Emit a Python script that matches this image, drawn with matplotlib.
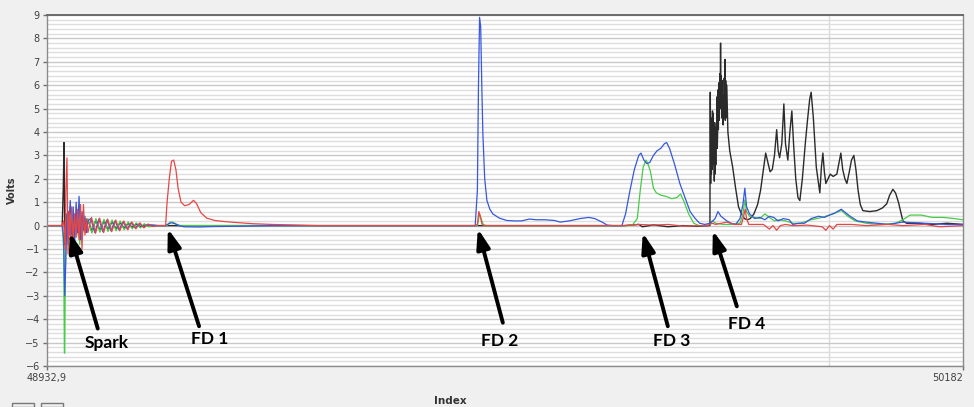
import matplotlib
matplotlib.use("Agg")
import matplotlib.pyplot as plt
from matplotlib.ticker import MultipleLocator
from matplotlib.patches import Rectangle

# index / volts samples for the four probe channels
black_x = [48933, 48954, 48955.5, 48956.5, 48957.5, 48959, 48961, 48963, 48965, 48967, 48969, 48971,
           48973, 48975, 48977, 48979, 48981, 48983, 48986, 48989, 48994.5, 49000, 49005.5, 49011,
           49016.5, 49022, 49027.5, 49033, 49038.5, 49044, 49049.5, 49055, 49060.5, 49066, 49085,
           49720, 49740, 49745, 49760, 49780, 49800, 49820, 49836,
           49837, 49837.5, 49838, 49838.5, 49839, 49839.5, 49840, 49840.5, 49841, 49841.5, 49842,
           49842.5, 49843, 49843.5, 49844, 49844.5, 49845, 49845.5, 49846, 49846.5, 49847, 49847.5,
           49848, 49848.5, 49849, 49849.5, 49850, 49850.5, 49851, 49851.5, 49852, 49852.5, 49853,
           49853.5, 49854, 49854.5, 49855, 49855.5, 49856, 49856.5, 49857, 49857.5, 49858, 49858.5,
           49859, 49860, 49861.5, 49864, 49868, 49872, 49876, 49880, 49884,
           49888, 49892, 49897, 49902, 49906, 49910, 49913, 49916, 49919, 49922, 49925, 49928,
           49930, 49932, 49935, 49937.8, 49940, 49943.2, 49946, 49948.7, 49951, 49954, 49957,
           49959.6, 49963, 49967, 49970, 49973, 49975, 49978, 49982, 49986.8, 49989, 49991, 49993,
           49995, 49998, 50001, 50005, 50010, 50013, 50015.5, 50018, 50021, 50023.7, 50027, 50030,
           50033.2, 50036, 50039, 50042, 50045.5, 50055, 50064.6, 50072, 50078, 50082, 50086.4,
           50090, 50094, 50097, 50100, 50105, 50120, 50140, 50160, 50182]
black_v = [0, 0, 1.6, 3.55, -0.8, 0.5, -0.5, 0.6, -0.4, 0.3, -0.6, 0.4,
           -0.2, 0.5, -0.3, 0.2, -0.5, 0.3, -0.2, 0.25, -0.25, 0.24, -0.22, 0.2,
           -0.18, 0.17, -0.15, 0.13, -0.12, 0.1, -0.08, 0.07, -0.05, 0.03, 0,
           0, 0.05, -0.05, 0.03, -0.05, 0, -0.03, 0,
           0, 5.7, 1.8, 4.6, 2.2, 4.0, 2.4, 4.9, 2.6, 4.8, 2.9,
           3.5, 1.9, 4.4, 2.2, 3.8, 2.6, 4.2, 3.5, 5.5, 3.3, 3.9,
           5.8, 4.1, 6.1, 4.5, 5.2, 6.5, 5.1, 7.8, 5.0, 6.4, 4.6,
           6.2, 4.8, 5.6, 4.3, 5.2, 4.6, 6.3, 5.0, 7.1, 4.5, 6.2,
           4.6, 6.0, 4.0, 3.2, 2.5, 1.6, 0.8, 0.5, 0.3,
           0.25, 0.3, 0.5, 0.9, 1.5, 2.4, 3.1, 2.7, 2.3, 2.4, 3.0, 4.1,
           3.2, 2.9, 3.5, 5.2, 3.5, 2.8, 4.0, 4.9, 3.5, 2.0, 1.2,
           1.07, 2.0, 3.5, 4.5, 5.4, 5.7, 4.6, 2.5, 1.4, 2.5, 3.1, 2.3,
           1.8, 2.0, 2.2, 2.1, 2.2, 2.7, 3.1, 2.4, 2.0, 1.8, 2.3, 2.8,
           3.0, 2.4, 1.5, 0.9, 0.64, 0.6, 0.64, 0.75, 0.93, 1.3, 1.55,
           1.4, 1.0, 0.6, 0.2, 0.1, 0.1, 0.05, 0.1, 0.05]

green_x = [48933, 48954, 48956, 48957, 48957.5, 48958.5, 48960, 48962, 48964, 48966, 48968, 48970,
           48972, 48974, 48976, 48978, 48980, 48982, 48984, 48986, 48989, 48994.5, 49000, 49005.5,
           49011, 49016.5, 49022, 49027.5, 49033, 49038.5, 49044, 49049.5, 49055, 49060.5, 49066,
           49071.5, 49085, 49097, 49101, 49105, 49110, 49115, 49520, 49523, 49525, 49528, 49532,
           49725, 49732, 49738, 49742, 49746, 49750, 49753, 49756, 49760, 49764, 49770, 49777,
           49785, 49792, 49797, 49802, 49808, 49815, 49822, 49830, 49837, 49840, 49845, 49855,
           49865, 49878, 49882, 49884.6, 49887, 49891, 49898, 49905, 49912, 49918, 49925, 49932,
           49940, 49950, 49960, 49975, 49990, 50005, 50016, 50025, 50035, 50050, 50070, 50090,
           50100, 50110, 50125, 50140, 50155, 50170, 50182]
green_v = [0, 0, -1.0, -5.45, -5.45, -1.0, 0.3, -0.6, 0.6, -0.5, 0.4, -0.7,
           0.5, -0.4, 0.3, -0.8, 0.4, -0.3, 0.3, -0.3, 0.3, -0.32, 0.3, -0.28,
           0.27, -0.25, 0.24, -0.22, 0.2, -0.18, 0.16, -0.14, 0.12, -0.1, 0.08,
           -0.05, 0, 0, 0.15, 0.15, 0.05, 0, 0, 0.5, 0.3, 0.05, 0,
           0, 0.05, 0.3, 1.5, 2.5, 2.8, 2.6, 2.3, 1.6, 1.4, 1.3, 1.25,
           1.15, 1.2, 1.35, 1.0, 0.5, 0.1, 0, 0, 0.05, 0.2, 0.1, 0.05,
           0.05, 0.1, 0.5, 1.1, 0.6, 0.4, 0.35, 0.3, 0.5, 0.35, 0.2, 0.25,
           0.2, 0.1, 0.1, 0.25, 0.35, 0.5, 0.65, 0.4, 0.2, 0.1, 0.05, 0.1,
           0.25, 0.45, 0.45, 0.35, 0.35, 0.3, 0.25]

blue_x = [48933, 48954, 48956, 48957.5, 48959, 48960.5, 48962, 48963.5, 48965, 48967, 48969, 48971,
          48973, 48975, 48977, 48979, 48981, 48983, 48985, 48987, 48989, 48993, 48998.5, 49004,
          49009.5, 49015, 49020.5, 49026, 49031.5, 49037, 49042.5, 49048, 49053.5, 49059, 49064.5,
          49070, 49085, 49095, 49099, 49103, 49108, 49113, 49120, 49140, 49160, 49190, 49240,
          49517, 49520, 49521.5, 49523, 49524.5, 49526, 49527.5, 49530, 49533, 49537, 49541,
          49550, 49560, 49571, 49580, 49591, 49600, 49612, 49625, 49633, 49645, 49660, 49672,
          49680, 49690, 49697, 49705, 49717, 49722, 49728, 49734, 49740, 49743, 49747, 49751,
          49755, 49760, 49765, 49770, 49775, 49778, 49782, 49789, 49796, 49803, 49810, 49817,
          49823, 49830, 49837, 49841, 49844, 49848, 49852, 49856, 49860, 49866, 49872, 49878,
          49882, 49884.6, 49887, 49891, 49898, 49905, 49912, 49918, 49924, 49930, 49937, 49945,
          49950, 49958, 49966, 49975, 49985, 49993, 50000, 50008, 50016, 50020, 50028, 50038,
          50050, 50065, 50080, 50100, 50130, 50160, 50182]
blue_v = [0, 0, -0.5, -3.0, -1.5, 0.5, -0.8, 0.3, 1.07, -0.4, 0.8, -0.8,
          1.0, -0.3, 1.25, -0.6, 0.6, -0.2, 0.4, -0.3, 0.2, 0.3, -0.3, 0.28,
          -0.26, 0.24, -0.22, 0.2, -0.18, 0.16, -0.14, 0.12, -0.1, 0.08, -0.06,
          0.03, 0, 0, 0.08, 0.12, 0.08, 0, -0.05, -0.06, -0.04, -0.03, 0,
          0, 1.5, 6.0, 8.9, 8.5, 6.0, 3.9, 2.0, 1.07, 0.7, 0.5,
          0.32, 0.22, 0.2, 0.2, 0.28, 0.25, 0.25, 0.22, 0.15, 0.2, 0.3, 0.35,
          0.3, 0.15, 0.02, 0, 0, 0.5, 1.5, 2.4, 3.0, 3.1, 2.8, 2.65,
          2.7, 3.0, 3.2, 3.3, 3.5, 3.55, 3.3, 2.6, 1.8, 1.2, 0.6, 0.3,
          0.1, 0.05, 0.1, 0.2, 0.3, 0.6, 0.4, 0.3, 0.2, 0.1, 0.05, 0.3,
          0.9, 1.6, 0.8, 0.5, 0.3, 0.35, 0.25, 0.4, 0.35, 0.2, 0.3, 0.25,
          0.05, 0.1, 0.1, 0.3, 0.4, 0.35, 0.45, 0.55, 0.7, 0.6, 0.4, 0.2,
          0.15, 0.1, 0.05, 0.15, 0.1, 0.05, 0.05]

red_x = [48933, 48954, 48956, 48958, 48959, 48960.5, 48962, 48963.5, 48965, 48967, 48969, 48971,
         48973, 48975, 48977, 48979, 48981, 48983, 48985, 48987, 48989, 48994, 48999.5, 49005,
         49010.5, 49016, 49021.5, 49027, 49032.5, 49038, 49043.5, 49049, 49054.5, 49060, 49065.5,
         49071, 49076.5, 49085, 49095, 49097, 49100, 49103, 49106, 49109, 49112, 49116, 49121,
         49127, 49133, 49137, 49143, 49151, 49162, 49176, 49192, 49214, 49240, 49265, 49300,
         49517, 49520, 49522, 49524, 49526, 49528, 49720, 49740, 49760, 49780, 49800, 49834,
         49840, 49845, 49860, 49870, 49880, 49883, 49885, 49887, 49890, 49910, 49918, 49923,
         49928, 49933, 49940, 49950, 49970, 49990, 49995, 50000, 50005, 50010, 50030, 50050,
         50080, 50100, 50130, 50150, 50182]
red_v = [0, 0, 0.2, -1.0, 1.5, 2.9, -1.2, 0.6, -0.6, 0.8, -0.7, 0.5,
         -0.5, 0.7, -0.6, 0.9, -1.0, 0.9, -0.4, 0.3, -0.3, 0.35, -0.33, 0.32,
         -0.3, 0.28, -0.26, 0.24, -0.22, 0.2, -0.18, 0.16, -0.14, 0.12, -0.1,
         0.07, -0.04, 0, 0, 1.0, 2.0, 2.75, 2.8, 2.4, 1.6, 1.0, 0.85,
         0.9, 1.08, 0.95, 0.55, 0.32, 0.22, 0.17, 0.13, 0.08, 0.05, 0.03, 0,
         0, 0.05, 0.6, 0.4, 0.1, 0, 0, 0.05, 0.02, 0.05, -0.02, 0,
         0.1, 0.05, 0.15, 0.05, 0.05, 0.4, 0.7, 0.3, 0.05, 0.05, -0.15, 0,
         -0.2, 0, 0.05, 0, 0.02, -0.05, -0.2, 0, -0.15, 0.05, 0.05, 0,
         0.05, 0, 0.05, -0.05, 0]

x_min, x_max = 48932.9, 50182
x_tick_labels = ["48932,9", "50182"]

events = ["Spark", "FD 1", "FD 2", "FD 3", "FD 4"]
event_tip_x = [48964.4, 49098, 49520.6, 49745.5, 49841]
event_tip_v = [-0.3, -0.13, -0.13, -0.3, -0.21]
event_tail_x = [49002.5, 49140.6, 49554.7, 49779.6, 49873.7]
event_tail_v = [-4.4, -4.3, -4.15, -4.3, -3.45]
event_text_x = [49014, 49154.5, 49550.6, 49785, 49887.3]
event_text_v = [-5.0, -4.84, -4.93, -4.93, -4.2]

fig = plt.figure(figsize=(9.74, 4.07), dpi=100, facecolor="#f0f0f0")
ax = fig.add_axes([46.7 / 974, 41 / 407, (963 - 46.7) / 974, (366 - 15) / 407])
ax.set_facecolor("white")

ax.plot(black_x, black_v, color="#2a2a2a", lw=1.0)
ax.plot(green_x, green_v, color="#46cc46", lw=0.9)
ax.plot(blue_x, blue_v, color="#3558dc", lw=0.9)
ax.plot(red_x, red_v, color="#e64646", lw=0.9)

ax.set_xlim(x_min, x_max)
ax.set_ylim(-6, 9)

# horizontal grid: unit majors, 0.2 minors
ax.yaxis.set_major_locator(MultipleLocator(1))
ax.yaxis.set_minor_locator(MultipleLocator(0.2))
ax.grid(True, axis="y", which="major", color="#c8c8c8", lw=1.0)
ax.grid(True, axis="y", which="minor", color="#dedede", lw=1.0)
ax.axvline(50000, color="#dadada", lw=1.0, zorder=0)
ax.set_axisbelow(True)

ax.set_xticks([x_min, x_max])
ax.set_xticklabels(x_tick_labels)
ax.get_xticklabels()[1].set_ha("right")
ax.tick_params(axis="both", which="major", labelsize=7, labelcolor="#404040",
               color="#707070", length=3, width=1, direction="out")
ax.tick_params(axis="y", which="minor", length=0)
ax.tick_params(axis="x", pad=2)
ax.tick_params(axis="y", pad=2)

for side in ["left", "bottom", "top", "right"]:
    ax.spines[side].set_color("#8a8a8a")
    ax.spines[side].set_linewidth(1.0)
ax.spines["top"].set_color("#6a6a6a")
ax.spines["top"].set_linewidth(1.4)

ax.set_ylabel("Volts", fontsize=7, fontweight="bold", color="#333333", labelpad=6)
ax.set_xlabel("Index", fontsize=7.5, fontweight="bold", color="#333333", labelpad=10)
ax.xaxis.set_label_coords(0.44, -0.085)

for name, tx, tv, sx, sv, lx, lv in zip(events, event_tip_x, event_tip_v, event_tail_x,
                                        event_tail_v, event_text_x, event_text_v):
    ax.annotate("", xy=(tx, tv), xytext=(sx, sv),
                arrowprops=dict(arrowstyle="-|>,head_length=0.65,head_width=0.22",
                                color="black", lw=2.8, mutation_scale=18,
                                shrinkA=0, shrinkB=0), zorder=5)
    ax.text(lx, lv, name, fontsize=12.5, fontweight="bold", family="Lato",
            ha="center", va="center", color="black", zorder=6)

# scroll buttons at the lower left edge
fig.patches.append(Rectangle((12 / 974, 0), 22 / 974, 4 / 407, transform=fig.transFigure,
                             facecolor="#f0f0f0", edgecolor="#777777", lw=1))
fig.patches.append(Rectangle((41 / 974, 0), 22 / 974, 4 / 407, transform=fig.transFigure,
                             facecolor="#f0f0f0", edgecolor="#777777", lw=1))

fig.savefig("out.png", dpi=100, facecolor=fig.get_facecolor())
